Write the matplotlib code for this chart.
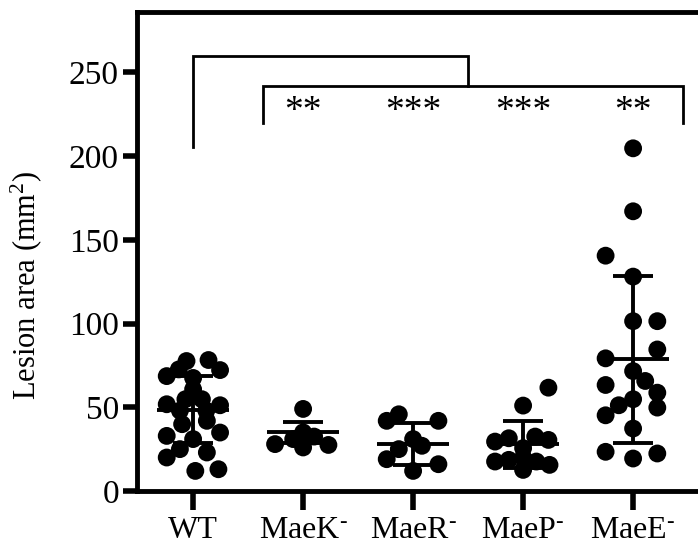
import matplotlib
matplotlib.use('Agg')
import matplotlib.pyplot as plt
import numpy as np

plt.rcParams['font.family'] = ['Liberation Serif', 'DejaVu Serif']
plt.rcParams['mathtext.fontset'] = 'custom'
plt.rcParams['mathtext.rm'] = 'Liberation Serif'
plt.rcParams['mathtext.it'] = 'Liberation Serif:italic'

# ---------------- data ----------------
categories = ['WT', 'MaeK', 'MaeR', 'MaeP', 'MaeE']
tick_labels = ['WT', r'MaeK$^{\text{-}}$', r'MaeR$^{\text{-}}$',
               r'MaeP$^{\text{-}}$', r'MaeE$^{\text{-}}$']

wt_values = [77.6, 78.2, 72.2, 72.6, 68.6, 67.5, 60.7, 54.8, 54.8, 51.8, 51.2,
             48.0, 48.0, 39.9, 41.9, 32.9, 34.9, 31.0, 25.0, 23.0, 20.0, 12.0, 13.0]
wt_offsets = [-0.06, 0.14, 0.245, -0.13, -0.24, 0.0, 0.0, -0.07, 0.08, -0.24, 0.245,
              -0.12, 0.12, -0.10, 0.125, -0.24, 0.245, 0.0, -0.12, 0.125, -0.24, 0.02, 0.23]

maek_values = [49.0, 28.0, 26.0, 27.5, 31.0, 32.5, 35.0]
maek_offsets = [0.0, -0.255, 0.0, 0.23, -0.09, 0.10, 0.0]

maer_values = [41.9, 45.8, 41.9, 31.0, 27.0, 25.0, 19.0, 16.0, 12.0]
maer_offsets = [-0.24, -0.13, 0.23, 0.0, 0.08, -0.13, -0.24, 0.23, 0.0]

maep_values = [61.7, 51.0, 29.5, 31.5, 32.5, 30.5, 25.6, 17.6, 18.6, 17.6, 15.6, 12.6, 20.0]
maep_offsets = [0.23, 0.0, -0.255, -0.13, 0.11, 0.23, 0.0, -0.255, -0.13, 0.12, 0.24, 0.0, 0.0]

maee_values = [204.6, 167.0, 140.5, 128.0, 101.4, 101.4, 84.5, 79.2, 71.6, 65.7, 63.3,
               58.7, 51.2, 54.8, 49.8, 45.2, 37.3, 23.4, 19.4, 22.4]
maee_offsets = [0.0, 0.0, -0.25, 0.0, 0.0, 0.22, 0.22, -0.25, 0.0, 0.11, -0.25,
                0.22, -0.13, 0.0, 0.22, -0.25, 0.0, -0.25, 0.0, 0.22]

means = [48.5, 35.0, 28.0, 28.0, 78.6]
sds = [20.0, 6.3, 12.5, 14.0, 49.7]
significance = ['**', '***', '***', '**']
y_ticks = [0, 50, 100, 150, 200, 250]

groups = [(wt_values, wt_offsets), (maek_values, maek_offsets), (maer_values, maer_offsets),
          (maep_values, maep_offsets), (maee_values, maee_offsets)]

# ---------------- figure ----------------
fig = plt.figure(figsize=(6.98, 5.52), dpi=100)
ax = fig.add_axes([0.1963, 0.1105, 0.8368, 0.8678])

for i, (vals, offs) in enumerate(groups):
    xs = i + np.asarray(offs)
    ax.scatter(xs, vals, s=165, color='black', edgecolors='none', zorder=3, clip_on=False)

for i, (m, sd) in enumerate(zip(means, sds)):
    ax.hlines(m, i - 0.33, i + 0.33, color='black', lw=2.8, zorder=4)
    ax.vlines(i, m - sd, m + sd, color='black', lw=2.8, zorder=4)
    ax.hlines([m - sd, m + sd], i - 0.18, i + 0.18, color='black', lw=2.8, zorder=4)

# significance brackets
lw_b = 2.0
ax.plot([0, 0, 2.495, 2.495], [205.6, 259.7, 259.7, 241.8], color='black', lw=lw_b,
        solid_joinstyle='miter', clip_on=False)
ax.plot([0.634, 0.634, 4.458, 4.458], [220, 241.8, 241.8, 220], color='black', lw=lw_b,
        solid_joinstyle='miter', clip_on=False)
for i, s in enumerate(significance):
    ax.text(i + 1, 221, s, ha='center', va='baseline', fontsize=27)

ax.set_xlim(-0.51, 4.8)
ax.set_ylim(0, 286)
ax.set_yticks(y_ticks)
ax.set_xticks(range(len(categories)))
ax.set_xticklabels(tick_labels, fontsize=23)
ax.tick_params(axis='y', labelsize=24, length=10, width=4, pad=3)
ax.tick_params(axis='x', length=14, width=4, pad=4)
for sp in ax.spines.values():
    sp.set_linewidth(3.5)

ax.set_ylabel(r'Lesion area (mm$^{\mathregular{2}}$)', fontsize=22)
ax.yaxis.set_label_coords(-0.16, 0.43)

fig.savefig('out.png', dpi=100)
